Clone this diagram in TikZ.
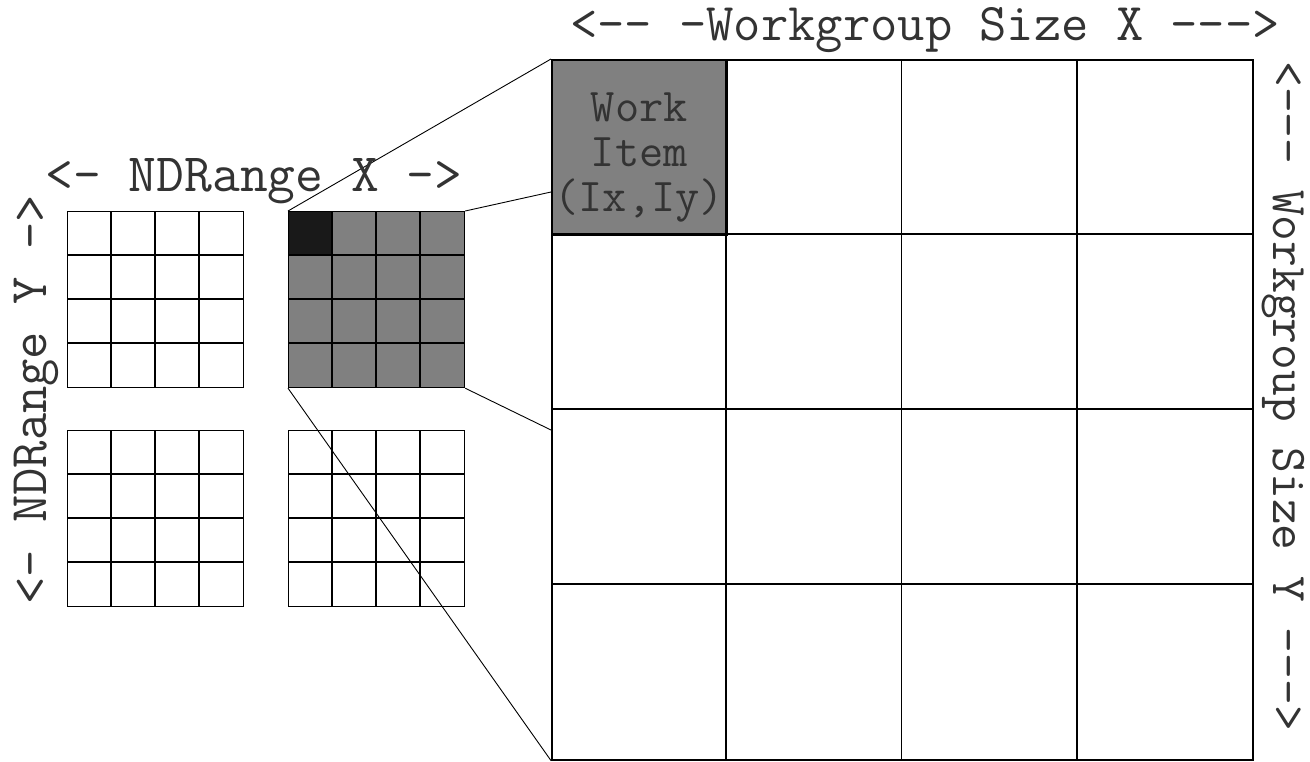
\documentclass[tikz,border=0pt]{standalone}
\usepackage{fontspec}
\usetikzlibrary{positioning}
\tikzset{
  lbl/.style={font=\ttfamily\fontsize{53}{53}\selectfont, text=black!80, inner sep=0pt},
  grp/.style={draw, line width=1.2pt, minimum size=176pt, inner sep=0pt, anchor=north west},
  cellline/.style={line width=1.2pt},
  bigline/.style={line width=1.6pt},
  zoomline/.style={line width=0.9pt}
}
\begin{document}
\begin{tikzpicture}[x=1pt,y=-1pt]
    \useasboundingbox (0,0) rectangle (1310,761);
    % the selected work-group is shaded
    \fill[gray] (288,211) rectangle (464,387);
    \fill[black!90] (288,211) rectangle (332,255);
    % four work-groups of the NDRange
    \node[grp] (wgA) at (67,211) {};
    \node[grp] (wgB) at (288,211) {};
    \node[grp] (wgC) at (67,430) {};
    \node[grp] (wgD) at (288,430) {};
    \foreach \gx/\gy in {67/211,288/211,67/430,288/430}{
      \foreach \k in {1,2,3}{
        \draw[cellline] (\gx+44*\k,\gy) -- (\gx+44*\k,\gy+176);
        \draw[cellline] (\gx,\gy+44*\k) -- (\gx+176,\gy+44*\k);
      }
    }
    % zoomed work-group
    \node[draw, bigline, minimum width=701pt, minimum height=700pt, inner sep=0pt, anchor=north west] (wg) at (551,59) {};
    \node[draw, bigline, fill=gray, minimum size=175pt, inner sep=0pt, anchor=north west] (item) at (wg.north west) {};
    \node[lbl, align=center, font=\ttfamily\fontsize{47}{45}\selectfont, yshift=-10pt] (itemtxt) at (item.center) {Work\\Item\\(Ix,Iy)};
    \foreach \k in {1,2,3}{
      \draw[bigline] (551+175.25*\k,59) -- (551+175.25*\k,759);
      \draw[bigline] (551,59+175*\k) -- (1252,59+175*\k);
    }
    \coordinate (zt) at (551,192);
    \coordinate (zb) at (551,430);
    \draw[zoomline] (wgB.north west) -- (wg.north west);
    \draw[zoomline] (wgB.north east) -- (zt);
    \draw[zoomline] (wgB.south east) -- (zb);
    \draw[zoomline] (wgB.south west) -- (wg.south west);
    % labels
    \node[lbl, font=\ttfamily\fontsize{54}{54}\selectfont] (ndx) at (254,181) {<- NDRange X ->};
    \node[lbl, rotate=90] (ndy) at (36,400) {<- NDRange Y ->};
    \node[lbl] (wsx) at (925,30) {<-- -Workgroup Size X --->};
    \node[lbl, font=\ttfamily\fontsize{50}{50}\selectfont, rotate=-90] (wsy) at (1283,396) {<--- Workgroup Size Y --->};
  \end{tikzpicture}
\end{document}
